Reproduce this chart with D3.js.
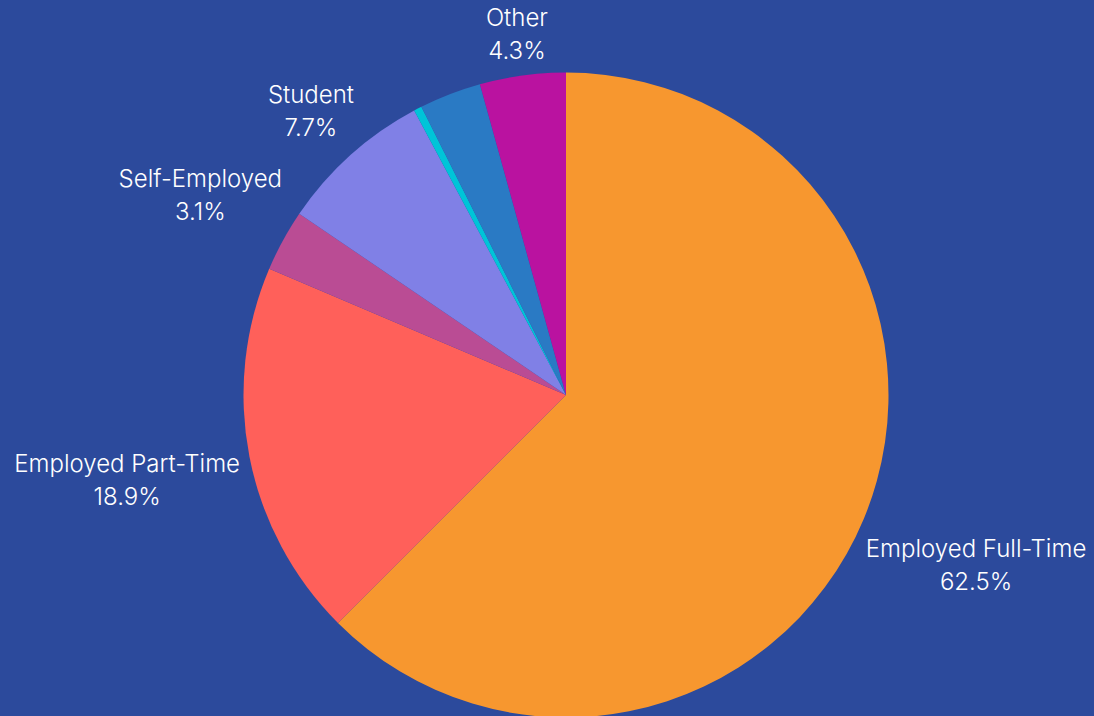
<!DOCTYPE html>
<html>
<head>
<meta charset="utf-8">
<script src="https://cdn.jsdelivr.net/npm/d3@7/dist/d3.min.js"></script>
<style>
  html, body { margin: 0; padding: 0; background: #2c4a9c; }
  svg { display: block; }
</style>
</head>
<body>
<svg id="chart" width="1094" height="716"></svg>
<script>
// Employment status shares (percent), drawn clockwise from 12 o'clock
const categories = ["Employed Full-Time", "Employed Part-Time", "Self-Employed", "Student", "Unemployed", "Retired", "Other"];
const shares = [62.5, 18.9, 3.1, 7.7, 0.4, 3.1, 4.3];
const sliceColors = ["#f7972f", "#ff605a", "#ba4c94", "#8080e6", "#00c4d8", "#2a7ac4", "#ba12a0"];
// slices whose labels are printed around the pie
const labelled = ["Employed Full-Time", "Employed Part-Time", "Self-Employed", "Student", "Other"];

const W = 1094, H = 716;
const cx = 566, cy = 395, radius = 322.5;
const labelGap = 8;

const svg = d3.select("#chart");
svg.append("rect").attr("width", W).attr("height", H).attr("fill", "#2c4a9c");

const rows = categories.map((c, i) => ({ name: c, value: shares[i], color: sliceColors[i] }));

const pie = d3.pie().value(d => d.value).sort(null);
const arc = d3.arc().innerRadius(0).outerRadius(radius);
const arcs = pie(rows);

const g = svg.append("g").attr("transform", `translate(${cx},${cy})`);

g.selectAll("path.slice")
  .data(arcs)
  .join("path")
  .attr("class", "slice")
  .attr("d", arc)
  .attr("fill", d => d.data.color);

const fmt = d3.format(".1f");
const lineH = 33;

const labels = g.selectAll("g.label")
  .data(arcs.filter(d => labelled.includes(d.data.name)))
  .join("g")
  .attr("class", "label");

labels.each(function(d) {
  const sel = d3.select(this);
  const t = sel.append("text")
    .attr("text-anchor", "middle")
    .attr("fill", "#ffffff")
    .style("font-family", "Inter, 'Noto Sans', sans-serif")
    .style("font-weight", 300)
    .style("font-size", "24px");
  t.append("tspan").attr("x", 0).attr("y", -lineH / 2).attr("dy", "0.35em").text(d.data.name);
  t.append("tspan").attr("x", 0).attr("y", lineH / 2).attr("dy", "0.35em").text(fmt(d.data.value) + "%");

  // push the label box outwards along the mid-angle ray until it clears the rim
  const bb = t.node().getBBox();
  const mid = (d.startAngle + d.endAngle) / 2;
  const ux = Math.sin(mid), uy = -Math.cos(mid);
  const boxH = 2 * lineH - 6;
  const extent = (bb.width / 2) * Math.abs(ux) + (boxH / 2) * Math.abs(uy);
  const dist = radius + labelGap + extent;
  sel.attr("transform", `translate(${ux * dist},${uy * dist})`);
});
</script>
</body>
</html>
